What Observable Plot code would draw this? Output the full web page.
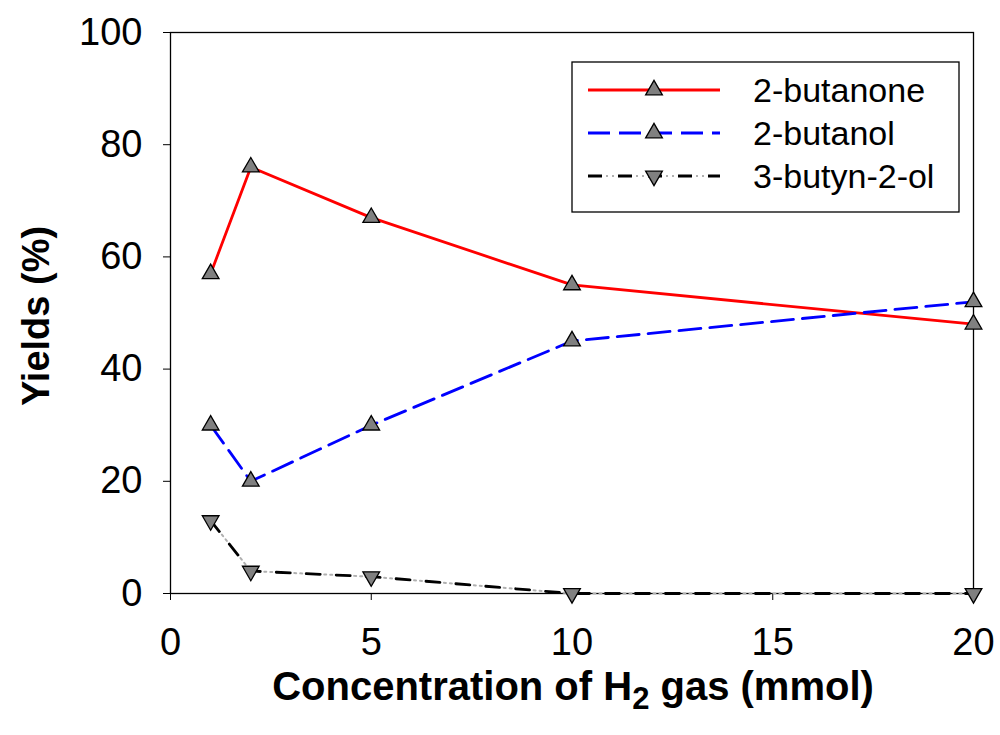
<!DOCTYPE html>
<html>
<head>
<meta charset="utf-8">
<script src="https://cdn.jsdelivr.net/npm/d3@7"></script>
<script src="https://cdn.jsdelivr.net/npm/@observablehq/plot@0.6"></script>
<style>
  html, body { margin: 0; padding: 0; background: #fff; }
  #chart { width: 1000px; height: 735px; }
</style>
</head>
<body>
<div id="chart"></div>
<script>
// ---- data ----
const h2Amounts = [1, 2, 5, 10, 20];
const butanone = [57, 76, 67, 55, 48];
const butanol = [30, 20, 30, 45, 52];
const butynol = [13, 4, 3, 0, 0];
const seriesNames = ["2-butanone", "2-butanol", "3-butyn-2-ol"];
const xTicks = [0, 5, 10, 15, 20];
const yTicks = [0, 20, 40, 60, 80, 100];

const seriesValues = [butanone, butanol, butynol];
const rows = [];
seriesNames.forEach((name, i) => {
  h2Amounts.forEach((x, j) => rows.push({series: name, x, y: seriesValues[i][j]}));
});
const sel = name => rows.filter(d => d.series === name);

const FONT = "'Liberation Sans', Arial, sans-serif";

const plot = Plot.plot({
  width: 1000,
  height: 735,
  marginLeft: 170,
  marginRight: 27,
  marginTop: 32,
  marginBottom: 142,
  style: {fontFamily: FONT, background: "white", color: "black", overflow: "visible"},
  x: {domain: [0, 20]},
  y: {domain: [0, 100]},
  marks: [
    Plot.frame({stroke: "black", strokeWidth: 1.3}),
    Plot.axisX({ticks: xTicks, tickSize: 7, tickPadding: 28, fontSize: 38, label: null, tickFormat: d => String(d)}),
    Plot.axisY({ticks: yTicks, tickSize: 7, tickPadding: 21, fontSize: 38, label: null, tickFormat: d => String(d)}),
    // 2-butanone
    Plot.line(sel(seriesNames[0]), {x: "x", y: "y", stroke: "#ff0000", strokeWidth: 2.8}),
    // 2-butanol
    Plot.line(sel(seriesNames[1]), {x: "x", y: "y", stroke: "#0000ff", strokeWidth: 2.8, strokeDasharray: "22,9"}),
    // 3-butyn-2-ol : faint dots + black dashes
    Plot.line(sel(seriesNames[2]), {x: "x", y: "y", stroke: "#b0b0b0", strokeWidth: 2, strokeDasharray: "0,18,2,4,2,4"}),
    Plot.line(sel(seriesNames[2]), {x: "x", y: "y", stroke: "black", strokeWidth: 2.8, strokeDasharray: "14,16"}),
    Plot.dot(sel(seriesNames[0]), {x: "x", y: "y", symbol: "triangle", r: 6.2, fill: "#808080", stroke: "black", strokeWidth: 1.3}),
    Plot.dot(sel(seriesNames[1]), {x: "x", y: "y", symbol: "triangle", r: 6.2, fill: "#808080", stroke: "black", strokeWidth: 1.3}),
    Plot.dot(sel(seriesNames[2]), {x: "x", y: "y", symbol: "triangle", rotate: 180, r: 6.2, fill: "#808080", stroke: "black", strokeWidth: 1.3})
  ]
});

document.getElementById("chart").appendChild(plot);

// ---- axis titles ----
const svg = d3.select(plot);
const xt = svg.append("text")
  .attr("x", 573).attr("y", 700)
  .attr("text-anchor", "middle")
  .attr("font-family", FONT).attr("font-weight", "bold").attr("font-size", 40)
  .attr("fill", "black");
xt.append("tspan").text("Concentration of H");
xt.append("tspan").attr("font-size", 31).attr("dy", 9).text("2");
xt.append("tspan").attr("dy", -9).text(" gas (mmol)");

svg.append("text")
  .attr("transform", "translate(49,316) rotate(-90)")
  .attr("text-anchor", "middle")
  .attr("font-family", FONT).attr("font-weight", "bold").attr("font-size", 38)
  .attr("fill", "black")
  .text("Yields (%)");

// ---- legend ----
const lg = svg.append("g");
lg.append("rect").attr("x", 572).attr("y", 62).attr("width", 387).attr("height", 150)
  .attr("fill", "white").attr("stroke", "black").attr("stroke-width", 1.3);
const legendStyles = [
  [{stroke: "#ff0000", dash: null, w: 2.8}],
  [{stroke: "#0000ff", dash: "22,9", w: 2.8}],
  [{stroke: "#b0b0b0", dash: "0,18,2,4,2,4", w: 2}, {stroke: "black", dash: "14,16", w: 2.8}]
];
const legendRot = [0, 0, 180];
const tri = d3.symbol(d3.symbolTriangle, Math.PI * 6.2 * 6.2)();
seriesNames.forEach((name, i) => {
  const cy = 90 + i * 43;
  legendStyles[i].forEach(s => {
    const l = lg.append("line").attr("x1", 588).attr("x2", 720).attr("y1", cy).attr("y2", cy)
      .attr("stroke", s.stroke).attr("stroke-width", s.w);
    if (s.dash) l.attr("stroke-dasharray", s.dash);
  });
  lg.append("path").attr("d", tri)
    .attr("transform", `translate(654,${cy}) rotate(${legendRot[i]})`)
    .attr("fill", "#808080").attr("stroke", "black").attr("stroke-width", 1.3);
  lg.append("text").attr("x", 753).attr("y", cy).attr("dy", "0.35em")
    .attr("text-anchor", "start")
    .attr("font-family", FONT).attr("font-size", 34).attr("fill", "black")
    .text(name);
});
</script>
</body>
</html>
